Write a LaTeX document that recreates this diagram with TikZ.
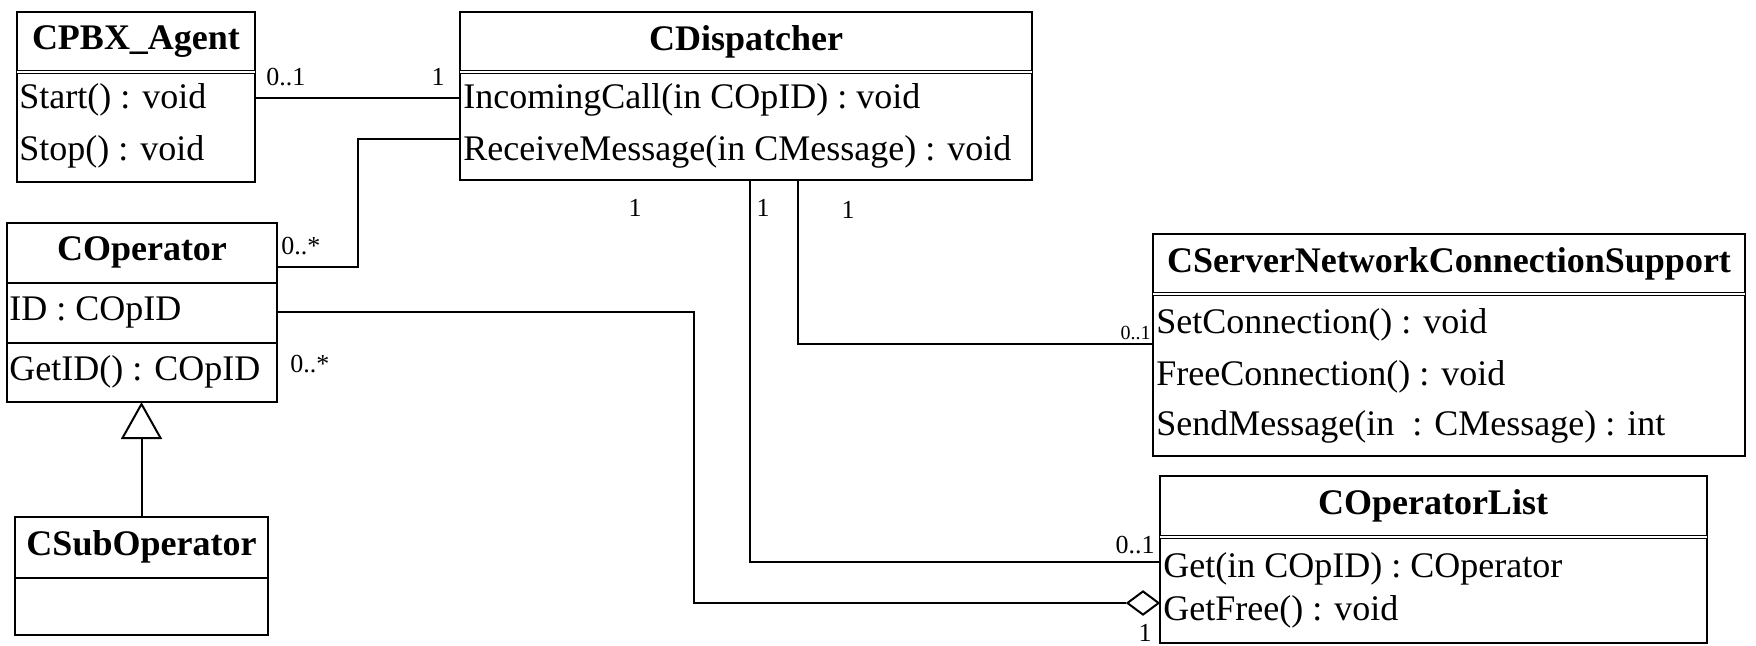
\documentclass[tikz,border=0pt]{standalone}
\usepackage{fontspec}
\setmainfont{Liberation Serif}
\usetikzlibrary{arrows.meta,shapes.geometric}
\begin{document}
\begin{tikzpicture}[x=0.5pt,y=-0.5pt,
  classbox/.style={draw, line width=1.1pt, inner sep=0pt, outer sep=0pt, anchor=north west},
  hdr/.style={line width=0.7pt, double, double distance=0.9pt},
  sepline/.style={line width=1pt},
  ttl/.style={inner sep=0pt, font=\fontsize{18}{20}\selectfont\bfseries},
  row/.style={inner sep=0pt, anchor=west, font=\fontsize{18}{20}\selectfont},
  mult/.style={inner sep=0pt, font=\fontsize{13}{15}\selectfont},
  smallmult/.style={inner sep=0pt, font=\fontsize{10}{12}\selectfont},
  conn/.style={line width=1pt, line join=miter},
  gen/.style={conn, -{Triangle[open, length=18.5pt, width=20.5pt, line width=1pt]}},
  aggr/.style={diamond, draw, line width=1pt, fill=white, inner sep=0pt, minimum width=16pt, minimum height=12pt, anchor=east}
]
\useasboundingbox (0,0) rectangle (1756,645);

% CPBX_Agent
\node[classbox, minimum width=119pt, minimum height=85pt] (agent) at (17,12) {};
\draw[hdr] (agent.west |- 0,72) -- (agent.east |- 0,72);
\node[ttl] (agentT) at (136,42) {CPBX\_Agent};
\node[row] (agentR1) at (19,100) {Start() : void};
\node[row] (agentR2) at (19,152) {Stop() : void};

% CDispatcher
\node[classbox, minimum width=286pt, minimum height=84pt] (disp) at (460,12) {};
\draw[hdr] (disp.west |- 0,72) -- (disp.east |- 0,72);
\node[ttl] (dispT) at (746,42) {CDispatcher};
\node[row] (dispR1) at (463,100) {IncomingCall(in COpID) : void};
\node[row] (dispR2) at (463,152) {ReceiveMessage(in CMessage) : void};

% COperator
\node[classbox, minimum width=135pt, minimum height=89.5pt] (coper) at (7,223) {};
\draw[sepline] (coper.west |- 0,283) -- (coper.east |- 0,283);
\draw[sepline] (coper.west |- 0,343) -- (coper.east |- 0,343);
\node[ttl] (coperT) at (142,252) {COperator};
\node[row] (coperR1) at (9,312) {ID : COpID};
\node[row] (coperR2) at (9,372) {GetID() : COpID};

% CSubOperator
\node[classbox, minimum width=126.5pt, minimum height=59pt] (csub) at (15,517) {};
\draw[sepline] (csub.west |- 0,578) -- (csub.east |- 0,578);
\node[ttl] (csubT) at (141.5,547) {CSubOperator};

% CServerNetworkConnectionSupport
\node[classbox, minimum width=296pt, minimum height=111pt] (cserver) at (1153,234) {};
\draw[hdr] (cserver.west |- 0,294) -- (cserver.east |- 0,294);
\node[ttl] (cserverT) at (1449,264) {CServerNetworkConnectionSupport};
\node[row] (cserverR1) at (1156,325) {SetConnection() : void};
\node[row] (cserverR2) at (1156,377) {FreeConnection() : void};
\node[row] (cserverR3) at (1156,427) {SendMessage(in\ \ : CMessage) : int};

% COperatorList
\node[classbox, minimum width=273.5pt, minimum height=83.5pt] (clist) at (1160,476) {};
\draw[hdr] (clist.west |- 0,537) -- (clist.east |- 0,537);
\node[ttl] (clistT) at (1433,506) {COperatorList};
\node[row] (clistR1) at (1163,569) {Get(in COpID) : COperator};
\node[row] (clistR2) at (1163,612) {GetFree() : void};

% connectors
\draw[conn] (agent.east |- 0,98) -- (disp.west |- 0,98);
\coordinate (k1) at (358,267);
\draw[conn] (disp.west |- 0,139) -| (k1) -- (coper.east |- k1);
\node[aggr] (dia) at (clist.west |- 0,603) {};
\coordinate (k2) at (694,603);
\draw[conn] (coper.east |- 0,312) -| (k2) -- (dia.west);
\coordinate (k3) at (750,562);
\draw[conn] (disp.south -| k3) -- (k3) -- (clist.west |- k3);
\coordinate (k4) at (798,344);
\draw[conn] (disp.south -| k4) -- (k4) -- (cserver.west |- k4);
\draw[gen] (csub.north) -- (csub.north |- coper.south);

% multiplicities
\node[mult, anchor=west] (m1) at (266,77) {0..1};
\node[mult] (m2) at (438,77) {1};
\node[mult, anchor=west] (m3) at (281,246) {0..*};
\node[mult, anchor=west] (m4) at (290,364) {0..*};
\node[mult] (m5) at (635,208) {1};
\node[mult] (m6) at (763,208) {1};
\node[mult] (m7) at (848,210) {1};
\node[smallmult, anchor=east] (m8) at (1151,333) {0..1};
\node[mult, anchor=east] (m9) at (1155,545) {0..1};
\node[mult] (m10) at (1145,633) {1};
\end{tikzpicture}
\end{document}
